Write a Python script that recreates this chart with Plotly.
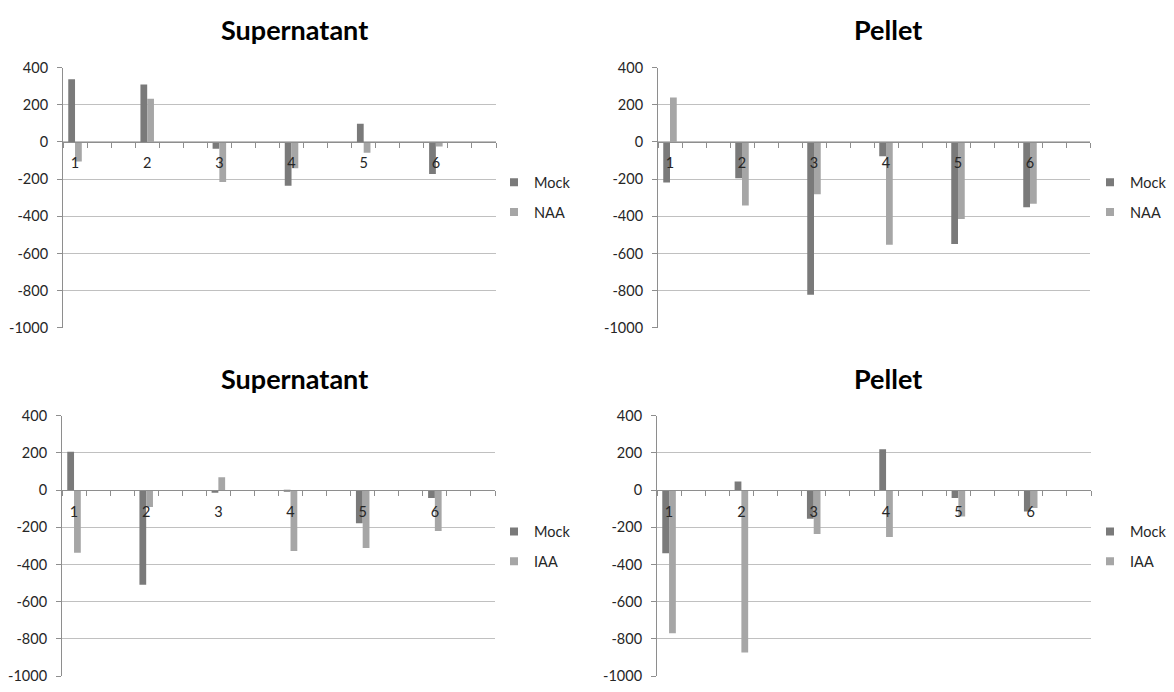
import plotly.graph_objects as go

# ---------------- data ----------------
samples = ["1", "2", "3", "4", "5", "6"]
y_ticks = [400, 200, 0, -200, -400, -600, -800, -1000]

sup_naa_mock = [337, 309, -37, -236, 98, -173]
sup_naa_naa = [-105, 232, -215, -141, -58, -24]

pel_naa_mock = [-218, -195, -822, -77, -548, -351]
pel_naa_naa = [239, -342, -281, -553, -414, -332]

sup_iaa_mock = [206, -509, -14, -5, -178, -42]
sup_iaa_iaa = [-336, -91, 70, -327, -311, -220]

pel_iaa_mock = [-339, 47, -154, 220, -42, -115]
pel_iaa_iaa = [-769, -872, -236, -252, -142, -96]

titles = ["Supernatant", "Pellet", "Supernatant", "Pellet"]
series_names = [("Mock", "NAA"), ("Mock", "NAA"), ("Mock", "IAA"), ("Mock", "IAA")]
panels = [
    (sup_naa_mock, sup_naa_naa),
    (pel_naa_mock, pel_naa_naa),
    (sup_iaa_mock, sup_iaa_iaa),
    (pel_iaa_mock, pel_iaa_iaa),
]

# ---------------- style ----------------
W, H = 1174, 692
FONT = "Lato, 'Open Sans', sans-serif"
TXT = "#262626"
C_MOCK = "#7a7a7a"
C_TREAT = "#a6a6a6"
GRID = "#c0c0c0"
AXIS = "#8e8e8e"
SLOTS = 3  # each sample occupies 3 category slots on the axis
YMIN, YMAX = -1000, 400

# pixel geometry of the four plot areas: (left, right, top, bottom)
boxes = [
    (63, 496, 60, 327),
    (658, 1090, 60, 327),
    (62, 495, 417, 684),
    (657, 1091, 417, 684),
]
title_pos = [(295, 21.5), (888, 21.5), (295, 378.5), (888, 378.5)]
legend_pos = [(534, 193), (1130, 193), (534, 551), (1130, 551)]

fig = go.Figure()
layout = dict(
    width=W, height=H,
    margin=dict(l=0, r=0, t=0, b=0),
    paper_bgcolor="white", plot_bgcolor="white",
    barmode="group", bargap=0.8125, bargroupgap=0,
    font=dict(family=FONT, color=TXT, size=14.5),
    annotations=[],
)

n_cat = len(samples) * SLOTS
minor_vals = [k - 0.5 for k in range(n_cat + 1)]

for i, ((mock, treat), (n1, n2)) in enumerate(zip(panels, series_names)):
    sfx = "" if i == 0 else str(i + 1)
    xa, ya = "x" + sfx, "y" + sfx
    leg = "legend" + sfx
    xs = [j * SLOTS for j in range(len(samples))]

    fig.add_trace(go.Bar(x=xs, y=mock, name=n1, marker=dict(color=C_MOCK, line=dict(width=0)),
                         xaxis=xa, yaxis=ya, showlegend=False))
    fig.add_trace(go.Bar(x=xs, y=treat, name=n2, marker=dict(color=C_TREAT, line=dict(width=0)),
                         xaxis=xa, yaxis=ya, showlegend=False))
    # legend entries (small square swatches as in the original)
    for nm, col in ((n1, C_MOCK), (n2, C_TREAT)):
        fig.add_trace(go.Scatter(x=[None], y=[None], mode="markers", name=nm,
                                 marker=dict(symbol="square", size=8, color=col),
                                 xaxis=xa, yaxis=ya, legend=leg, legendgroup=nm + sfx,
                                 showlegend=True, hoverinfo="skip"))

    l, r, t, b = boxes[i]
    y0, y1 = 1 - b / H, 1 - t / H
    zero_pos = y0 + (0 - YMIN) / (YMAX - YMIN) * (y1 - y0)

    layout["xaxis" + sfx] = dict(
        domain=[l / W, r / W], range=[-0.5, n_cat - 0.5],
        anchor="free", position=zero_pos,
        showline=True, linecolor=AXIS, linewidth=1,
        tickmode="array", tickvals=xs, ticktext=samples,
        ticks="outside", ticklen=5, tickcolor="rgba(0,0,0,0)",
        ticklabelstandoff=3,
        showgrid=False, zeroline=False,
        tickfont=dict(family=FONT, size=14.5, color=TXT),
        minor=dict(tickmode="array", tickvals=minor_vals, ticks="outside",
                   ticklen=5, tickcolor=AXIS, tickwidth=1, showgrid=False),
        fixedrange=True,
    )
    layout["yaxis" + sfx] = dict(
        domain=[y0, y1], range=[YMIN, YMAX], anchor=xa,
        tickmode="array", tickvals=y_ticks, ticktext=[str(v) for v in y_ticks],
        showline=True, linecolor=AXIS, linewidth=1,
        ticks="outside", ticklen=5, tickcolor=AXIS,
        ticklabelstandoff=6,
        showgrid=True, gridcolor=GRID, gridwidth=1, zeroline=False,
        tickfont=dict(family=FONT, size=14.5, color=TXT),
        fixedrange=True,
    )

    tx, ty = title_pos[i]
    layout["annotations"].append(dict(
        text="<b>" + titles[i] + "</b>", x=tx / W, y=1 - ty / H, xref="paper", yref="paper",
        xanchor="center", yanchor="middle", showarrow=False,
        font=dict(family=FONT, size=27, color="#000000"),
    ))

    lx, lyc = legend_pos[i]
    layout[leg] = dict(
        x=(lx - 40) / W, y=1 - lyc / H, xanchor="left", yanchor="middle",
        xref="paper", yref="paper",
        bgcolor="rgba(0,0,0,0)", borderwidth=0,
        font=dict(family=FONT, size=14.5, color=TXT),
        tracegroupgap=8, itemwidth=30,
    )

fig.update_layout(**layout)
fig.write_html("out.html")
